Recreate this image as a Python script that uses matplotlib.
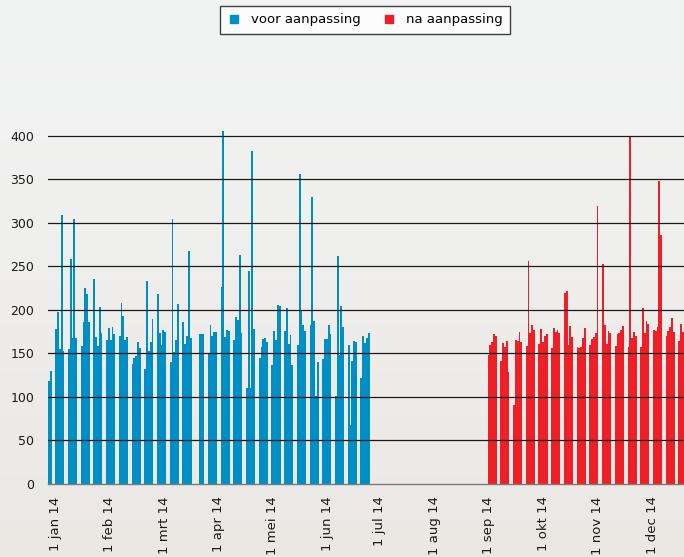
import numpy as np
import pandas as pd
import matplotlib
matplotlib.use("Agg")
import matplotlib.pyplot as plt
from matplotlib.lines import Line2D
from matplotlib.colors import LinearSegmentedColormap

# ---------------- data (values per business day) ----------------
origin = "2014-01-01"
blue_start, blue_end = "2014-01-01", "2014-06-27"
red_start, red_end = "2014-09-01", "2014-12-17"

blue_jan = [0, 118, 130, 178, 197, 155, 309, 153, 155, 258, 168, 304, 167,
            158, 186, 225, 218, 186, 235, 169, 158, 203, 173]
blue_feb = [165, 179, 165, 180, 172, 170, 208, 193, 165, 169,
            138, 144, 147, 163, 156, 132, 233, 153, 163, 189]
blue_mar = [218, 173, 160, 177, 175, 140, 304, 151, 165, 207,
            186, 161, 170, 267, 168, 0, 0, 172, 172, 172, 150]
blue_apr = [183, 170, 175, 174, 226, 405, 169, 177, 176, 165, 192, 188, 263, 173,
            110, 244, 110, 382, 178, 145, 157, 166]
blue_may = [167, 163, 137, 176, 165, 206, 204, 176, 202, 161, 171, 137,
            159, 356, 200, 182, 176, 182, 329, 187, 101, 140]
blue_jun = [143, 166, 166, 183, 172, 101, 262, 148, 204, 180,
            160, 67, 141, 164, 163, 122, 170, 162, 168, 173]

red_sep = [148, 160, 163, 172, 170, 141, 162, 157, 164, 129, 91, 165, 164, 175, 163,
           158, 256, 173, 182, 177, 161, 178]
red_oct = [163, 170, 172, 156, 179, 175, 177, 173, 219, 222, 159, 181, 169,
           157, 156, 157, 167, 179, 159, 166, 169, 173, 319]
red_nov = [253, 182, 161, 176, 173, 158, 172, 173, 177, 181,
           157, 400, 167, 174, 170, 157, 202, 173, 187, 184]
red_dec = [177, 176, 180, 348, 286, 170, 176, 180, 191, 175, 164, 184, 175]

month_labels = ["1 jan 14", "1 feb 14", "1 mrt 14", "1 apr 14", "1 mei 14", "1 jun 14",
                "1 jul 14", "1 aug 14", "1 sep 14", "1 okt 14", "1 nov 14", "1 dec 14"]
yticks = [0, 50, 100, 150, 200, 250, 300, 350, 400]
legend_labels = ["voor aanpassing", "na aanpassing"]

# ---------------- assemble ----------------
blue_vals = blue_jan + blue_feb + blue_mar + blue_apr + blue_may + blue_jun
red_vals = red_sep + red_oct + red_nov + red_dec
t0 = pd.Timestamp(origin)
blue_x = (pd.bdate_range(blue_start, blue_end) - t0).days.values
red_x = (pd.bdate_range(red_start, red_end) - t0).days.values
month_x = [4.7, 34.1, 64.4, 94.1, 124.3, 154.1, 183.2, 213.0, 243.2, 273.0, 303.2, 333.0]

BLUE = "#008fc5"
RED = "#ee1f26"

W, H = 684, 557
fig = plt.figure(figsize=(W / 100, H / 100), dpi=100)

# background gradient
bg = fig.add_axes([0, 0, 1, 1], zorder=-10)
cmap = LinearSegmentedColormap.from_list("bg", ["#ebe8e4", "#f2f4f4"])
grad = np.linspace(0, 1, 256).reshape(-1, 1)
bg.imshow(grad, aspect="auto", cmap=cmap, origin="lower", extent=[0, 1, 0, 1])
bg.axis("off")

ax_left = 48 / W
ax_bottom = (H - 483.8) / H
ax_top = (H - 127.0) / H
ax = fig.add_axes([ax_left, ax_bottom, 1 - ax_left, ax_top - ax_bottom])
ax.set_facecolor("none")

ax.bar(blue_x, blue_vals, width=1.0, color=BLUE, linewidth=0, zorder=2)
ax.bar(red_x, red_vals, width=1.0, color=RED, linewidth=0, zorder=2)

ax.set_xlim(0.5, 350.6)
ax.set_ylim(0, 410)

for v in yticks[1:]:
    ax.axhline(v, color="#1a1a1a", lw=0.9, zorder=3)

for s in ["top", "right", "left"]:
    ax.spines[s].set_visible(False)
ax.spines["bottom"].set_color("#7a7a7a")
ax.spines["bottom"].set_linewidth(1.0)
ax.spines["bottom"].set_zorder(4)

ax.set_yticks(yticks)
ax.set_yticklabels([str(v) for v in yticks])
ax.set_xticks(month_x)
ax.set_xticklabels(month_labels, rotation=90)
ax.tick_params(axis="y", length=0, pad=10, labelsize=9, labelcolor="#1a1a1a")
ax.tick_params(axis="x", length=0, pad=9, labelsize=9.5, labelcolor="#1a1a1a")

handles = [Line2D([], [], marker="s", ls="", color=BLUE, markersize=6),
           Line2D([], [], marker="s", ls="", color=RED, markersize=6)]
leg = fig.legend(handles, legend_labels, loc="center", bbox_to_anchor=(365 / W, 1 - 20 / H),
                 ncol=2, frameon=True, fancybox=False, fontsize=9.5,
                 handlelength=1.0, handletextpad=0.8, columnspacing=1.6,
                 borderpad=0.6, borderaxespad=0)
leg.get_frame().set_edgecolor("#111111")
leg.get_frame().set_linewidth(1.0)
leg.get_frame().set_facecolor("white")

fig.savefig("out.png", dpi=100)
